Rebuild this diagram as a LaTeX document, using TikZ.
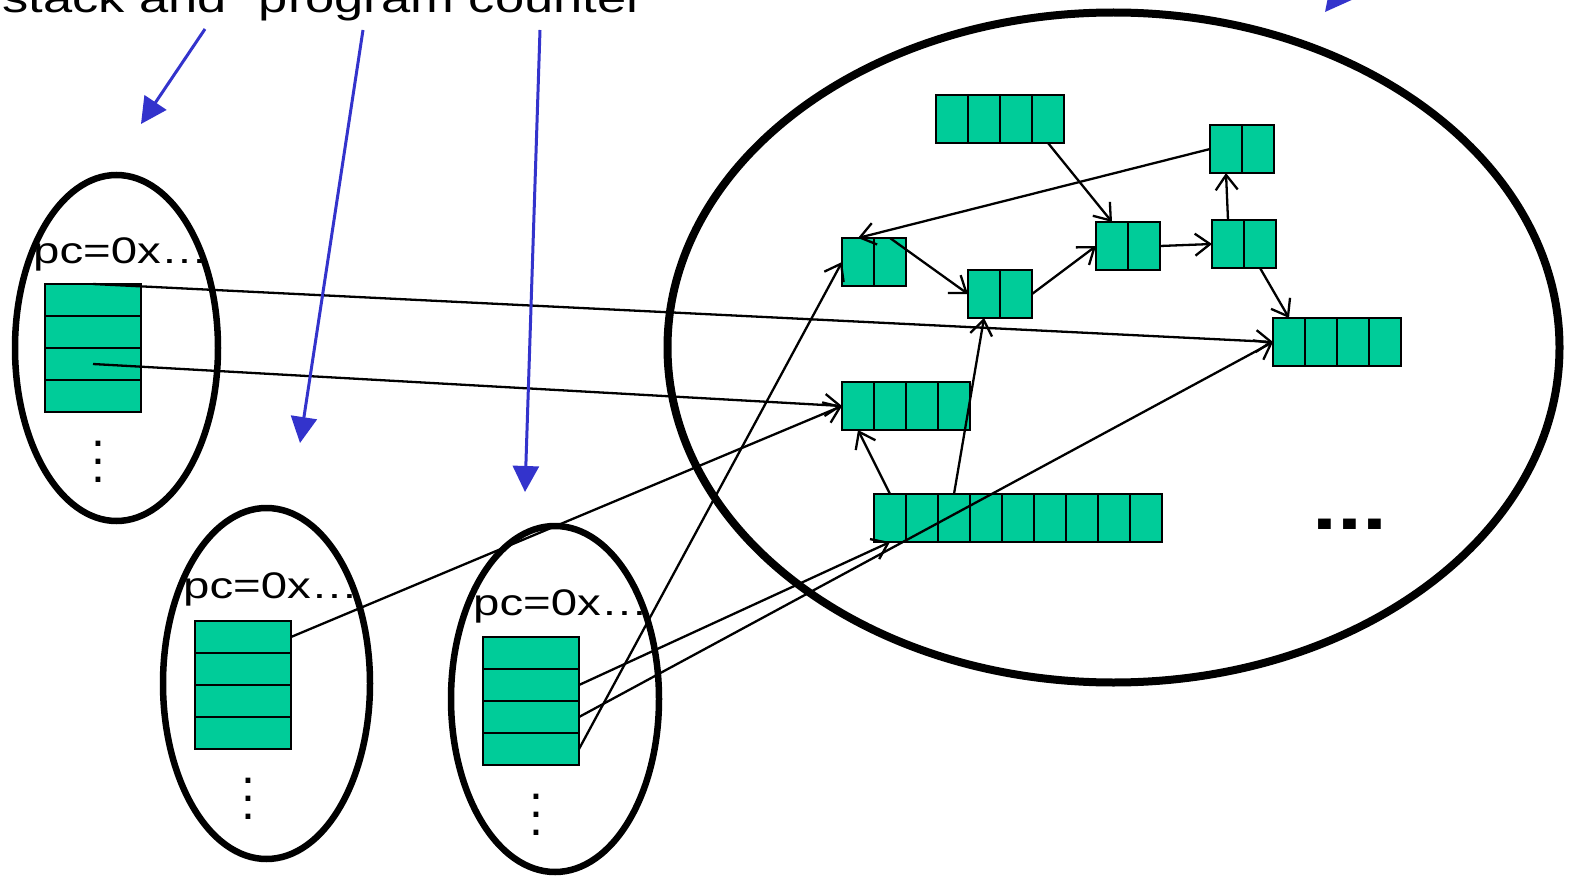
\documentclass[tikz,border=0pt]{standalone}
\usepackage{fontspec}
\setmainfont{Liberation Sans}
\newfontfamily\wf[FakeStretch=1.28]{Liberation Sans}
\usetikzlibrary{arrows.meta,shapes.geometric}
\definecolor{heap}{RGB}{0,204,153}
\definecolor{pblue}{RGB}{51,51,204}
\begin{document}
\begin{tikzpicture}[x=1pt,y=-1pt,
  cell/.style={draw,fill=heap,line width=2.3pt,minimum width=32pt,minimum height=48pt,inner sep=0pt,outer sep=0pt,anchor=north west},
  srow/.style={draw,fill=heap,line width=2.3pt,minimum width=96pt,minimum height=32pt,inner sep=0pt,outer sep=0pt,anchor=north west},
  blob/.style={draw,ellipse,line width=6.5pt,inner sep=0pt,outer sep=0pt},
  link/.style={line width=2.3pt,-{Straight Barb[length=15pt,width=22pt]}},
  note/.style={draw=pblue,line width=3pt,-{Triangle[length=26pt,width=26pt]}},
  pclabel/.style={font=\wf\fontsize{37}{42}\selectfont,inner sep=0pt,anchor=base west},
  vdots/.style={font=\fontsize{50}{18}\selectfont,align=center,inner sep=0pt}
]
\fill[white] (0,0) rectangle (1572,880);
\useasboundingbox (0,0) rectangle (1572,880);

% top text (partly cut off by the page edge)
\node[font=\wf\fontsize{41}{48}\selectfont,anchor=base west,inner sep=0pt] (title) at (2,13) {stack and “program counter”};

% threads and heap
\node[blob,minimum width=203pt,minimum height=346pt] (t1) at (116.5,348) {};
\node[blob,minimum width=207pt,minimum height=351pt] (t2) at (266.5,683.5) {};
\node[blob,minimum width=208pt,minimum height=346pt] (t3) at (555,699) {};
\node[blob,line width=8pt,minimum width=892pt,minimum height=670pt] (heapE) at (1113.5,347.5) {};

% stacks
\foreach \k/\l in {1/a,2/b,3/c,4/d}{
  \node[srow] (s1\l) at (45,{284+32*(\k-1)}) {};
  \node[srow] (s2\l) at (195,{621+32*(\k-1)}) {};
  \node[srow] (s3\l) at (483,{637+32*(\k-1)}) {};
}
\node[pclabel] (pc1) at (33,263) {pc=0x…};
\node[pclabel] (pc2) at (183,598) {pc=0x…};
\node[pclabel] (pc3) at (473,615) {pc=0x…};
\node[vdots] (v1) at (98,462) {.\\.\\.};
\node[vdots] (v2) at (248,799) {.\\.\\.};
\node[vdots] (v3) at (536,815) {.\\.\\.};

% heap objects
\foreach \k in {1,...,4}{ \node[cell] (A\k) at ({936+32*(\k-1)},95) {}; }
\foreach \k in {1,2}{ \node[cell] (B\k) at ({1210+32*(\k-1)},125) {}; }
\foreach \k in {1,2}{ \node[cell] (C\k) at ({842+32*(\k-1)},238) {}; }
\foreach \k in {1,2}{ \node[cell] (D\k) at ({968+32*(\k-1)},270) {}; }
\foreach \k in {1,2}{ \node[cell] (E\k) at ({1096+32*(\k-1)},222) {}; }
\foreach \k in {1,2}{ \node[cell] (F\k) at ({1212+32*(\k-1)},220) {}; }
\foreach \k in {1,...,4}{ \node[cell] (G\k) at ({1273+32*(\k-1)},318) {}; }
\foreach \k in {1,...,4}{ \node[cell] (H\k) at ({842+32*(\k-1)},382) {}; }
\foreach \k in {1,...,9}{ \node[cell] (I\k) at ({874+32*(\k-1)},494) {}; }
\node[font=\wf\bfseries\fontsize{70}{70}\selectfont,anchor=base west,inner sep=0pt] (more) at (1312,529) {...};

% pointers
\draw[link] (A4.south) -- (E1.north);
\draw[link] (B1.west) -- (C1.north);
\draw[link] (C2.north) -- (D1.west);
\draw[link] (D2.east) -- (E1.west);
\draw[link] (E2.east) -- (F1.west);
\draw[link] (F1.north) -- (B1.south);
\draw[link] (F2.south) -- (G1.north);
\draw[link] (I1.north) -- (H1.south);
\draw[link] (I3.north) -- (D1.south);
\draw[link] (s1a.north) -- (G1.west);
\draw[link] (s1c.center) -- (H1.west);
\draw[link] (s2a.east) -- (H1.west);
\draw[link] (s3b.east) -- (I1.south);
\draw[link] (s3c.east) -- (G1.west);
\draw[link] (s3d.east) -- (C1.west);

% blue callout arrows
\coordinate (b1s) at (205,29); \coordinate (b1t) at (141,124);
\coordinate (b2s) at (363,30); \coordinate (b2t) at (300,443);
\coordinate (b3s) at (540,30); \coordinate (b3t) at (525,492);
\coordinate (b4s) at (1387,-66); \coordinate (b4t) at (1325,12);
\draw[note] (b1s) -- (b1t);
\draw[note] (b2s) -- (b2t);
\draw[note] (b3s) -- (b3t);
\draw[note] (b4s) -- (b4t);
\end{tikzpicture}
\end{document}
